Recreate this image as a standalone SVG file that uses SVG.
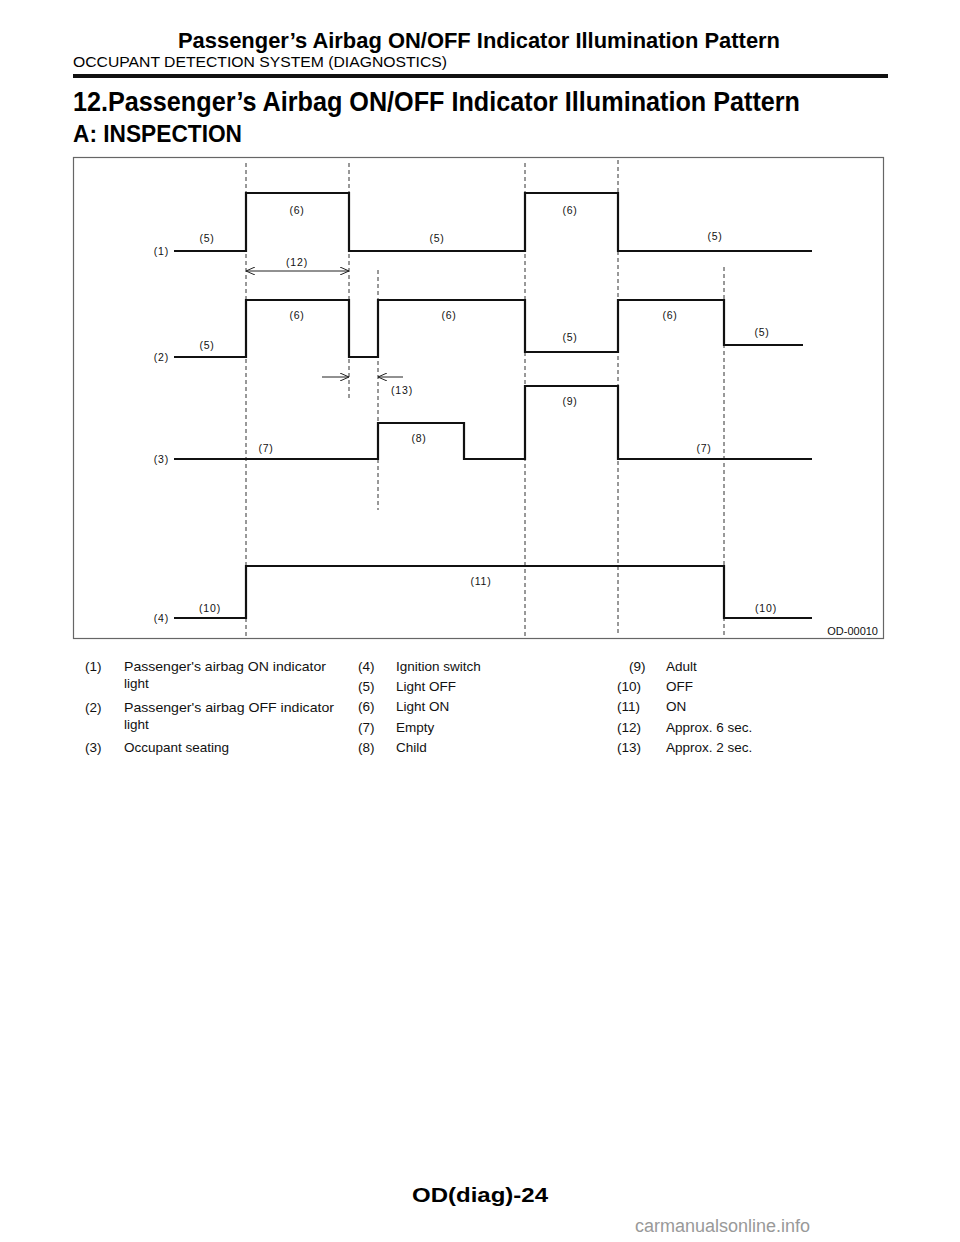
<svg xmlns="http://www.w3.org/2000/svg" width="960" height="1242" viewBox="0 0 960 1242">
<style>
.h{font-family:"Liberation Sans",Arial,sans-serif;fill:#000}
.b{font-weight:bold}
.lbl{font-family:"Liberation Sans",Arial,sans-serif;font-size:10.5px;letter-spacing:0.8px;fill:#111;text-anchor:middle}
.rl{font-family:"Liberation Sans",Arial,sans-serif;font-size:10.5px;letter-spacing:0.8px;fill:#111;text-anchor:end}
.leg{font-family:"Liberation Sans",Arial,sans-serif;font-size:13.5px;fill:#111}
.sig{fill:none;stroke:#111;stroke-width:2.2;stroke-linejoin:miter}
.dash{fill:none;stroke:#333;stroke-width:1;stroke-dasharray:4 3}
.dim{fill:none;stroke:#222;stroke-width:1}
</style>
<defs>
<marker id="arr" viewBox="0 0 9 8" refX="9" refY="4" markerWidth="9" markerHeight="8" markerUnits="userSpaceOnUse" orient="auto-start-reverse">
<path d="M0,0 L9,4 L0,8" fill="none" stroke="#222" stroke-width="1"/>
</marker>
</defs>
<rect width="960" height="1242" fill="#fff"/>

<g id="header">
<text class="h b" x="479" y="48" font-size="22" text-anchor="middle" textLength="602" lengthAdjust="spacingAndGlyphs">Passenger’s Airbag ON/OFF Indicator Illumination Pattern</text>
<text class="h" x="73" y="67" font-size="15" textLength="374" lengthAdjust="spacingAndGlyphs">OCCUPANT DETECTION SYSTEM (DIAGNOSTICS)</text>
<line x1="73" y1="76" x2="888" y2="76" stroke="#111" stroke-width="4"/>
<text class="h b" x="73" y="111" font-size="27" textLength="727" lengthAdjust="spacingAndGlyphs">12.Passenger’s Airbag ON/OFF Indicator Illumination Pattern</text>
<text class="h b" x="73" y="142" font-size="23" textLength="169" lengthAdjust="spacingAndGlyphs">A:  INSPECTION</text>
</g>

<g id="frame">
<rect x="73.5" y="157.5" width="810" height="481" fill="none" stroke="#666" stroke-width="1.2"/>
<text x="878" y="635" font-family="Liberation Sans,Arial,sans-serif" font-size="11" text-anchor="end" fill="#111">OD-00010</text>
</g>

<g id="gridlines">
<line class="dash" x1="246" y1="163" x2="246" y2="636"/>
<line class="dash" x1="349" y1="163" x2="349" y2="398"/>
<line class="dash" x1="378" y1="270" x2="378" y2="510"/>
<line class="dash" x1="525" y1="163" x2="525" y2="636"/>
<line class="dash" x1="618" y1="160" x2="618" y2="636"/>
<line class="dash" x1="724" y1="267" x2="724" y2="636"/>
</g>

<g id="signal1">
<path class="sig" d="M174,251 H246 V193 H349 V251 H525 V193 H618 V251 H812"/>
<text class="rl" x="169" y="255">(1)</text>
<text class="lbl" x="207" y="242">(5)</text>
<text class="lbl" x="297" y="214">(6)</text>
<text class="lbl" x="437" y="242">(5)</text>
<text class="lbl" x="570" y="214">(6)</text>
<text class="lbl" x="715" y="240">(5)</text>
</g>

<g id="signal2">
<path class="sig" d="M174,357 H246 V300 H349 V357 H378 V300 H525 V352 H618 V300 H724 V345 H803"/>
<text class="rl" x="169" y="361">(2)</text>
<text class="lbl" x="207" y="349">(5)</text>
<text class="lbl" x="297" y="319">(6)</text>
<text class="lbl" x="449" y="319">(6)</text>
<text class="lbl" x="570" y="341">(5)</text>
<text class="lbl" x="670" y="319">(6)</text>
<text class="lbl" x="762" y="336">(5)</text>
</g>

<g id="signal3">
<path class="sig" d="M174,459 H378 V423 H464 V459 H525 V386 H618 V459 H812"/>
<text class="rl" x="169" y="463">(3)</text>
<text class="lbl" x="266" y="452">(7)</text>
<text class="lbl" x="419" y="442">(8)</text>
<text class="lbl" x="570" y="405">(9)</text>
<text class="lbl" x="704" y="452">(7)</text>
</g>

<g id="signal4">
<path class="sig" d="M174,618 H246 V566 H724 V618 H812"/>
<text class="rl" x="169" y="622">(4)</text>
<text class="lbl" x="210" y="612">(10)</text>
<text class="lbl" x="481" y="585">(11)</text>
<text class="lbl" x="766" y="612">(10)</text>
</g>

<g id="connectors">
<line class="dim" x1="246" y1="271" x2="349" y2="271" marker-start="url(#arr)" marker-end="url(#arr)"/>
<text class="lbl" x="297" y="266">(12)</text>
<line class="dim" x1="322" y1="377" x2="349" y2="377" marker-end="url(#arr)"/>
<line class="dim" x1="403" y1="377" x2="378" y2="377" marker-end="url(#arr)"/>
<text class="lbl" x="402" y="394">(13)</text>
</g>

<g id="legend">
<text class="leg" x="85" y="671">(1)</text>
<text class="leg" x="124" y="671" textLength="202" lengthAdjust="spacingAndGlyphs">Passenger's airbag ON indicator</text>
<text class="leg" x="124" y="688">light</text>
<text class="leg" x="85" y="712">(2)</text>
<text class="leg" x="124" y="712" textLength="210" lengthAdjust="spacingAndGlyphs">Passenger's airbag OFF indicator</text>
<text class="leg" x="124" y="729">light</text>
<text class="leg" x="85" y="752">(3)</text>
<text class="leg" x="124" y="752">Occupant seating</text>

<text class="leg" x="358" y="671">(4)</text>
<text class="leg" x="396" y="671">Ignition switch</text>
<text class="leg" x="358" y="691">(5)</text>
<text class="leg" x="396" y="691">Light OFF</text>
<text class="leg" x="358" y="711">(6)</text>
<text class="leg" x="396" y="711">Light ON</text>
<text class="leg" x="358" y="732">(7)</text>
<text class="leg" x="396" y="732">Empty</text>
<text class="leg" x="358" y="752">(8)</text>
<text class="leg" x="396" y="752">Child</text>

<text class="leg" x="629" y="671">(9)</text>
<text class="leg" x="666" y="671">Adult</text>
<text class="leg" x="617" y="691">(10)</text>
<text class="leg" x="666" y="691">OFF</text>
<text class="leg" x="617" y="711">(11)</text>
<text class="leg" x="666" y="711">ON</text>
<text class="leg" x="617" y="732">(12)</text>
<text class="leg" x="666" y="732">Approx. 6 sec.</text>
<text class="leg" x="617" y="752">(13)</text>
<text class="leg" x="666" y="752">Approx. 2 sec.</text>
</g>

<g id="footer">
<text class="h b" x="480" y="1202" font-size="21" text-anchor="middle" textLength="136" lengthAdjust="spacingAndGlyphs">OD(diag)-24</text>
<text x="810" y="1232" font-family="Liberation Sans,Arial,sans-serif" font-size="18" fill="#999" text-anchor="end">carmanualsonline.info</text>
</g>
</svg>
